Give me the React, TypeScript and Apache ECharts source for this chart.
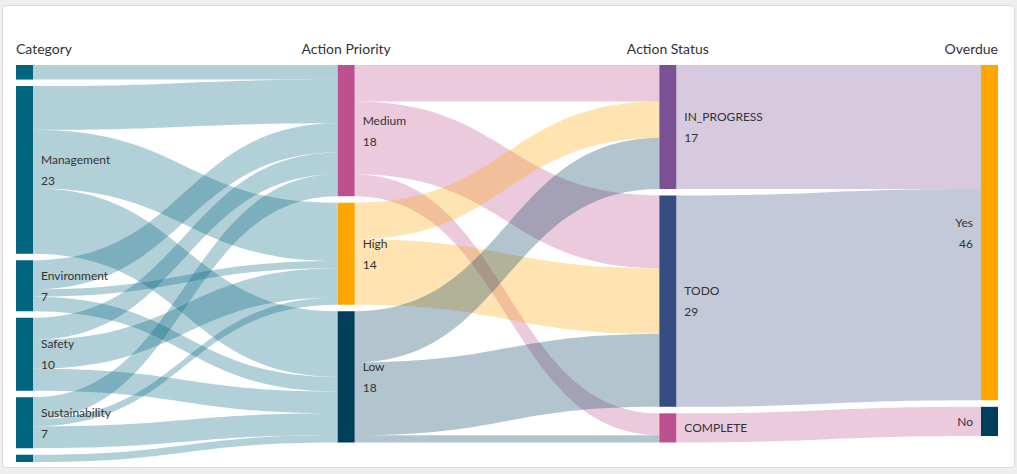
import React, { useEffect, useRef } from "react";
import * as echarts from "echarts";

// ---- data ----
const columnTitles = ["Category", "Action Priority", "Action Status", "Overdue"];

const categoryNodes = ["Quality", "Management", "Environment", "Safety", "Sustainability", "Other"];
const priorityNodes = ["Medium", "High", "Low"];
const statusNodes = ["IN_PROGRESS", "TODO", "COMPLETE"];
const overdueNodes = ["Yes", "No"];

// [source, target, value]
const categoryToPriority: [string, string, number][] = [
  ["Quality", "Medium", 2],
  ["Management", "Medium", 6],
  ["Management", "High", 8],
  ["Management", "Low", 9],
  ["Environment", "Medium", 4],
  ["Environment", "High", 1],
  ["Environment", "Low", 2],
  ["Safety", "Medium", 3],
  ["Safety", "High", 4],
  ["Safety", "Low", 3],
  ["Sustainability", "Medium", 3],
  ["Sustainability", "High", 1],
  ["Sustainability", "Low", 3],
  ["Other", "Low", 1],
];

const priorityToStatus: [string, string, number][] = [
  ["Medium", "IN_PROGRESS", 5],
  ["Medium", "TODO", 10],
  ["Medium", "COMPLETE", 3],
  ["High", "IN_PROGRESS", 5],
  ["High", "TODO", 9],
  ["Low", "IN_PROGRESS", 7],
  ["Low", "TODO", 10],
  ["Low", "COMPLETE", 1],
];

const statusToOverdue: [string, string, number][] = [
  ["IN_PROGRESS", "Yes", 17],
  ["TODO", "Yes", 29],
  ["COMPLETE", "No", 4],
];

// ---- styles ----
const nodeColors: Record<string, string> = {
  Quality: "#00657f",
  Management: "#00657f",
  Environment: "#00657f",
  Safety: "#00657f",
  Sustainability: "#00657f",
  Other: "#00657f",
  Medium: "#bc5090",
  High: "#ffa600",
  Low: "#003f5c",
  IN_PROGRESS: "#7a5195",
  TODO: "#374c80",
  COMPLETE: "#bc5090",
  Yes: "#ffa600",
  No: "#003f5c",
};
const unlabeled = ["Quality", "Other"];
const nameOnly = ["COMPLETE", "No"];

const FONT = "Lato";
const W = 1017;
const H = 474;
const LEFT = 16;
const RIGHT = 19;
const NODE_W = 17;

export default function App() {
  const ref = useRef<HTMLDivElement>(null);

  useEffect(() => {
    if (!ref.current) return;
    const chart = echarts.init(ref.current, undefined, { renderer: "svg" });

    const nodes = [
      ...categoryNodes.map((n) => ({ name: n, col: 0 })),
      ...priorityNodes.map((n) => ({ name: n, col: 1 })),
      ...statusNodes.map((n) => ({ name: n, col: 2 })),
      ...overdueNodes.map((n) => ({ name: n, col: 3 })),
    ].map(({ name, col }) => {
      const d: any = { name, itemStyle: { color: nodeColors[name] } };
      if (unlabeled.includes(name)) d.label = { show: false };
      else if (nameOnly.includes(name)) d.label = { formatter: "{b}" };
      if (col === 3) {
        d.label = {
          ...(d.label || {}),
          position: "left",
          align: "right",
        };
      }
      return d;
    });

    const links = [...categoryToPriority, ...priorityToStatus, ...statusToOverdue].map(
      ([source, target, value]) => ({ source, target, value })
    );

    const step = (W - LEFT - RIGHT - NODE_W) / 3;
    const titles = columnTitles.map((t, i) => {
      const xLeft = LEFT + i * step;
      let x = xLeft + NODE_W / 2;
      let align = "center";
      if (i === 0) {
        x = xLeft;
        align = "left";
      } else if (i === 3) {
        x = xLeft + NODE_W;
        align = "right";
      }
      return {
        type: "text",
        x,
        y: 48,
        style: {
          text: t,
          align,
          verticalAlign: "middle",
          fontFamily: FONT,
          fontSize: 14,
          fill: "#333",
        },
      };
    });

    chart.setOption({
      animation: false,
      graphic: titles,
      series: [
        {
          type: "sankey",
          left: LEFT,
          right: RIGHT,
          top: 65,
          bottom: 12,
          nodeWidth: NODE_W,
          nodeGap: 6.5,
          layoutIterations: 0,
          draggable: false,
          emphasis: { disabled: true },
          itemStyle: { borderWidth: 0 },
          lineStyle: { color: "source", opacity: 0.3, curveness: 0.5 },
          label: {
            show: true,
            position: "right",
            distance: 8,
            formatter: "{b}\n{c}",
            fontFamily: FONT,
            fontSize: 12,
            lineHeight: 21,
            color: "#333",
          },
          data: nodes,
          links,
        },
      ],
    });

    return () => chart.dispose();
  }, []);

  return (
    <div style={{ position: "fixed", left: 0, top: 0, width: W, height: H, background: "#eeeeee" }}>
      <div
        style={{
          position: "absolute",
          left: 2,
          top: 5,
          width: 1013,
          height: 463,
          boxSizing: "border-box",
          background: "#ffffff",
          border: "1px solid #d9d9d9",
          borderRadius: 4,
        }}
      />
      <div ref={ref} style={{ position: "absolute", left: 0, top: 0, width: W, height: H }} />
    </div>
  );
}
